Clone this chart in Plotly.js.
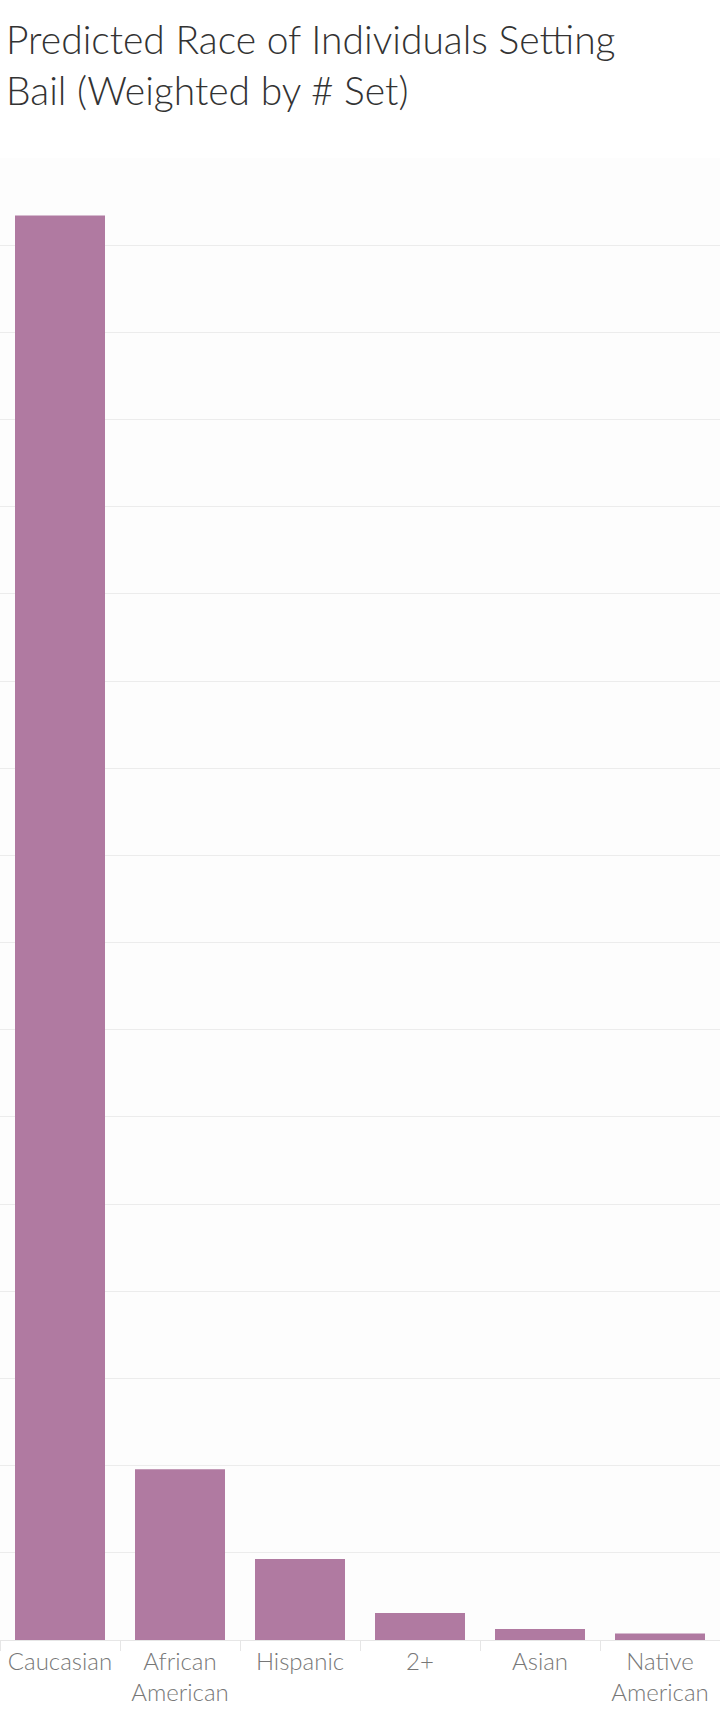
<!DOCTYPE html>
<html>
<head>
<meta charset="utf-8">
<script src="https://cdn.plot.ly/plotly-3.0.1.min.js"></script>
<style>body{margin:0;background:#fff}#chart{width:720px;height:1722px}</style>
</head>
<body>
<div id="chart"></div>
<script>
// Predicted race, weighted by number of bails set
const categories = ["Caucasian", "African<br>American", "Hispanic", "2+", "Asian", "Native<br>American"];
const values = [16.34, 1.96, 0.93, 0.31, 0.126, 0.075];
const titleText = "Predicted Race of Individuals Setting<br>Bail (Weighted by # Set)";

Plotly.newPlot("chart", [{
  x: categories, y: values, type: "bar",
  marker: { color: "#b07aa1" }, hoverinfo: "skip",
}], {
  width: 720, height: 1722,
  font: { family: "Lato, 'Open Sans', sans-serif", color: "#666" },
  paper_bgcolor: "#fff", plot_bgcolor: "#fdfdfd",
  margin: { l: 0, r: 0, t: 158, b: 82 },
  showlegend: false, bargap: 0.25,
  annotations: [{
    text: titleText, showarrow: false, align: "left",
    xref: "paper", yref: "paper", x: 0.005, xanchor: "left", y: 1.097, yanchor: "top",
    font: { size: 39, color: "#333", family: "Lato, 'Open Sans', sans-serif", weight: 300 },
  }],
  xaxis: {
    tickfont: { size: 24, color: "#777", weight: 300 },
    ticks: "outside", tickson: "boundaries", ticklen: 10, tickcolor: "#e6e6e6",
    showline: true, linecolor: "#e6e6e6", fixedrange: true,
  },
  yaxis: {
    range: [0, 17], dtick: 1, showticklabels: false,
    gridcolor: "#ececec", zeroline: false, fixedrange: true,
  },
}, { displayModeBar: false, staticPlot: true });
</script>
</body>
</html>
